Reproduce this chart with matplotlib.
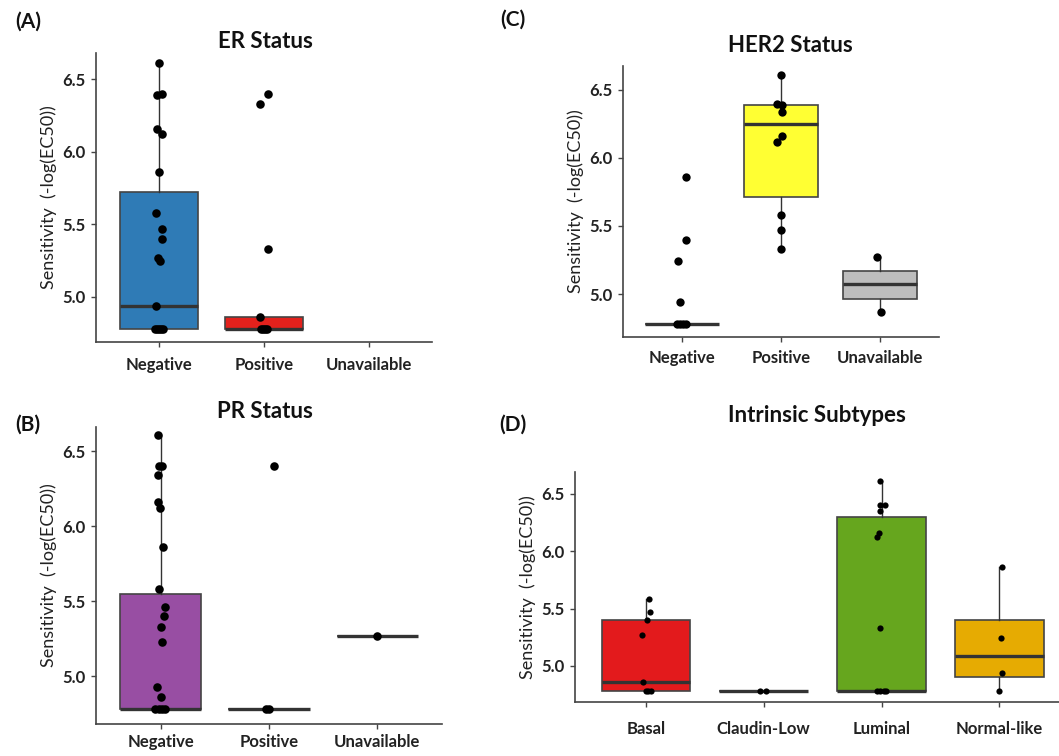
import matplotlib
matplotlib.use("Agg")
import matplotlib.pyplot as plt

plt.rcParams['font.family'] = ['Lato', 'DejaVu Sans']

W, H = 1059, 756

# (A) ER status
er_cats = ['Negative', 'Positive', 'Unavailable']
er_q1 = [4.78, 4.78, None]
er_med = [4.94, 4.78, None]
er_q3 = [5.72, 4.86, None]
er_lo = [4.78, 4.78, None]
er_hi = [6.61, 4.86, None]
er_pts = [[6.61, 6.40, 6.39, 6.16, 6.12, 5.86, 5.58, 5.47, 5.40, 5.27, 5.25, 4.94,
           4.78, 4.78, 4.78, 4.78, 4.78],
          [6.40, 6.33, 5.33, 4.86, 4.78, 4.78, 4.78, 4.78],
          []]
er_jit = [[0.0, 0.03, -0.02, -0.02, 0.025, 0.0, -0.03, 0.03, 0.03, -0.01, 0.01, -0.03,
           -0.04, -0.02, 0.0, 0.02, 0.035],
          [0.035, -0.035, 0.035, -0.04, -0.03, -0.01, 0.01, 0.03],
          []]
er_colors = ['#2f7bb6', '#e3211c', None]

# (B) PR status
pr_cats = ['Negative', 'Positive', 'Unavailable']
pr_q1 = [4.78, 4.78, 5.27]
pr_med = [4.78, 4.78, 5.27]
pr_q3 = [5.55, 4.78, 5.27]
pr_lo = [4.78, 4.78, 5.27]
pr_hi = [6.61, 4.78, 5.27]
pr_pts = [[6.61, 6.40, 6.40, 6.34, 6.16, 6.12, 5.86, 5.58, 5.46, 5.40, 5.33, 5.23, 4.93,
           4.86, 4.78, 4.78, 4.78, 4.78],
          [6.40, 4.78, 4.78],
          [5.27]]
pr_jit = [[-0.025, -0.015, 0.01, -0.025, -0.03, -0.01, 0.02, -0.015, 0.035, 0.025, 0.0,
           0.01, -0.035, 0.0, -0.05, -0.02, 0.01, 0.04],
          [0.045, -0.03, 0.0],
          [0.0]]
pr_colors = ['#984ea3', '#984ea3', '#984ea3']

# (C) HER2 status
her2_cats = ['Negative', 'Positive', 'Unavailable']
her2_q1 = [4.78, 5.71, 4.96]
her2_med = [4.78, 6.25, 5.07]
her2_q3 = [4.78, 6.39, 5.17]
her2_lo = [4.78, 5.33, 4.87]
her2_hi = [4.78, 6.61, 5.27]
her2_pts = [[5.86, 5.40, 5.24, 4.94, 4.78, 4.78, 4.78, 4.78],
            [6.61, 6.40, 6.39, 6.34, 6.16, 6.12, 5.58, 5.47, 5.33],
            [5.27, 4.87]]
her2_jit = [[0.035, 0.035, -0.04, -0.02, -0.05, -0.02, 0.01, 0.04],
            [0.0, -0.04, 0.01, 0.01, 0.01, -0.04, 0.0, 0.0, 0.0],
            [-0.03, 0.015]]
her2_colors = ['#bdbdbd', '#ffff33', '#bdbdbd']

# (D) Intrinsic subtypes
sub_cats = ['Basal', 'Claudin-Low', 'Luminal', 'Normal-like']
sub_q1 = [4.78, 4.78, 4.78, 4.90]
sub_med = [4.86, 4.78, 4.78, 5.09]
sub_q3 = [5.40, 4.78, 6.30, 5.40]
sub_lo = [4.78, 4.78, 4.78, 4.78]
sub_hi = [5.58, 4.78, 6.61, 5.86]
sub_pts = [[5.58, 5.47, 5.40, 5.27, 4.86, 4.78, 4.78, 4.78],
           [4.78, 4.78],
           [6.61, 6.40, 6.40, 6.35, 6.16, 6.12, 5.33, 4.78, 4.78, 4.78, 4.78],
           [5.86, 5.24, 4.94, 4.78]]
sub_jit = [[0.025, 0.04, 0.01, -0.035, -0.025, 0.0, 0.02, 0.045],
           [-0.035, 0.02],
           [-0.015, -0.01, 0.03, -0.01, -0.02, -0.035, -0.015, -0.035, -0.01, 0.02, 0.04],
           [0.02, 0.015, 0.025, -0.005]]
sub_colors = ['#e31a1c', '#e31a1c', '#66a61e', '#e6ab02']

ytick_vals = [5.0, 5.5, 6.0, 6.5]
ylabel_txt = 'Sensitivity  (-log(EC50))'


def px_rect(left, right, top, bottom):
    return [left / W, 1 - bottom / H, (right - left) / W, (bottom - top) / H]


def draw_panel(ax, cats, q1, med, q3, lo, hi, pts, jit, colors, ylim, xlim, dot, xpad):
    stats, pos, fills = [], [], []
    for i in range(len(cats)):
        if q1[i] is None:
            continue
        stats.append(dict(q1=q1[i], med=med[i], q3=q3[i], whislo=lo[i], whishi=hi[i], fliers=[]))
        pos.append(i + 1)
        fills.append(colors[i])
    bp = ax.bxp(stats, positions=pos, widths=0.75, patch_artist=True,
                showcaps=False, showfliers=False,
                boxprops=dict(edgecolor='#444444', linewidth=1.2),
                medianprops=dict(color='#333333', linewidth=2.4),
                whiskerprops=dict(color='#333333', linewidth=1.0))
    for patch, c in zip(bp['boxes'], fills):
        patch.set_facecolor(c)
    for i in range(len(cats)):
        xs = [i + 1 + d for d in jit[i]]
        ax.scatter(xs, pts[i], s=dot, color='black', linewidths=0, zorder=4)
    ax.set_xlim(*xlim)
    ax.set_ylim(*ylim)
    ax.set_xticks(range(1, len(cats) + 1))
    ax.set_xticklabels(cats)
    ax.set_yticks(ytick_vals)
    ax.set_yticklabels([f'{v:.1f}' for v in ytick_vals])
    for s in ['top', 'right']:
        ax.spines[s].set_visible(False)
    for s in ['left', 'bottom']:
        ax.spines[s].set_color('#444444')
        ax.spines[s].set_linewidth(1.2)
    ax.tick_params(colors='#444444', length=3.5, width=1.0, pad=4)
    ax.tick_params(axis='x', pad=xpad)
    for lab in ax.get_xticklabels() + ax.get_yticklabels():
        lab.set_fontweight('bold')
        lab.set_fontsize(12)
        lab.set_color('#222222')
    ax.set_ylabel(ylabel_txt, fontsize=13, color='#222222', labelpad=4)


fig = plt.figure(figsize=(W / 100, H / 100), dpi=100)

axA = fig.add_axes(px_rect(96, 432, 53, 342))
draw_panel(axA, er_cats, er_q1, er_med, er_q3, er_lo, er_hi, er_pts, er_jit, er_colors,
           (4.69, 6.68), (0.4, 3.6), 38, 7)

axB = fig.add_axes(px_rect(96, 442, 427, 724))
draw_panel(axB, pr_cats, pr_q1, pr_med, pr_q3, pr_lo, pr_hi, pr_pts, pr_jit, pr_colors,
           (4.68, 6.663), (0.4, 3.6), 38, 4)

axC = fig.add_axes(px_rect(623, 939, 66, 337))
draw_panel(axC, her2_cats, her2_q1, her2_med, her2_q3, her2_lo, her2_hi, her2_pts, her2_jit,
           her2_colors, (4.684, 6.676), (0.4, 3.6), 36, 6)

axD = fig.add_axes(px_rect(575, 1059, 472, 702))
draw_panel(axD, sub_cats, sub_q1, sub_med, sub_q3, sub_lo, sub_hi, sub_pts, sub_jit,
           sub_colors, (4.686, 6.69), (0.4, 4.505), 20, 10)

# titles and panel letters
titles = [('ER Status', 265, 42), ('PR Status', 265, 412),
          ('HER2 Status', 790, 45), ('Intrinsic Subtypes', 817, 415)]
for txt, x, y in titles:
    fig.text(x / W, 1 - y / H, txt, ha='center', va='center', fontsize=16,
             fontweight='bold', color='#111111')

letters = [('(A)', 28, 22), ('(B)', 28, 425), ('(C)', 513, 20), ('(D)', 513, 425)]
for txt, x, y in letters:
    fig.text(x / W, 1 - y / H, txt, ha='center', va='center', fontsize=15,
             fontweight='bold', color='#111111')

fig.savefig('out.png', dpi=100)
